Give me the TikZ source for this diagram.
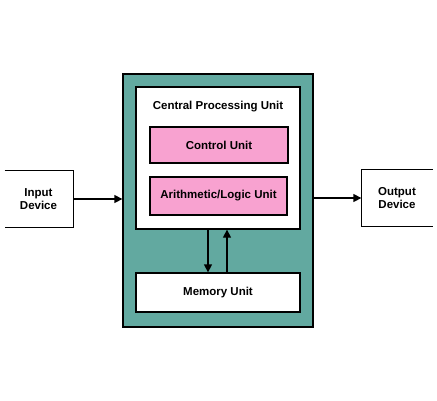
\documentclass[tikz,border=0pt]{standalone}
\usepackage{fontspec}
\setmainfont{Liberation Sans}
\usetikzlibrary{arrows.meta}
\definecolor{tealbg}{HTML}{62A9A0}
\definecolor{unitpink}{HTML}{F8A2D0}
\tikzset{
  unit/.style={draw, line width=1.3pt, inner sep=0pt, font=\bfseries\fontsize{11.5}{13}\selectfont, align=center},
  flow/.style={-{Triangle[length=8pt,width=8pt]}, line width=1.3pt},
}
\begin{document}
\begin{tikzpicture}[x=1pt, y=-1pt]
      \useasboundingbox (0, 0) rectangle (437, 400);
      \node[unit, fill=tealbg, minimum width=190, minimum height=253] (outer) at (218, 200.5) {};
      \node[unit, fill=white, minimum width=164, minimum height=142] (cpu) at (218, 158) {};
      \node[font=\bfseries\fontsize{11.5}{13}\selectfont] (title) at (218, 107) {Central Processing Unit};
      \node[unit, fill=unitpink, minimum width=138, minimum height=36] (control) at (219, 145) {Control Unit};
      \node[unit, fill=unitpink, minimum width=137, minimum height=38] (alu) at (218.5, 196) {Arithmetic/Logic Unit};
      \node[unit, fill=white, minimum width=164, minimum height=39] (memory) at (218, 292.5) {Memory Unit};
      \node[unit, draw=none, minimum width=69, minimum height=56] (input) at (38.5, 199) {Input\\Device};
      \node[unit, draw=none, minimum width=70, minimum height=56] (output) at (397, 198) {Output\\Device};
      % open device boxes
      \draw[line width=1.3pt] ([xshift=-34]input.north) -- (input.north east) -- (input.south east) -- ([xshift=-34]input.south);
      \draw[line width=1.3pt] (output.north east) -- (output.north west) -- (output.south west) -- (output.south east);
      \draw[flow] (input.east) -- (input.east -| outer.west);
      \draw[flow] (outer.east |- output.west) -- (output.west);
      \draw[flow] ([xshift=-10]cpu.south) -- ([xshift=-10]memory.north);
      \draw[flow] ([xshift=9]memory.north) -- ([xshift=9]cpu.south);
    \end{tikzpicture}
\end{document}
